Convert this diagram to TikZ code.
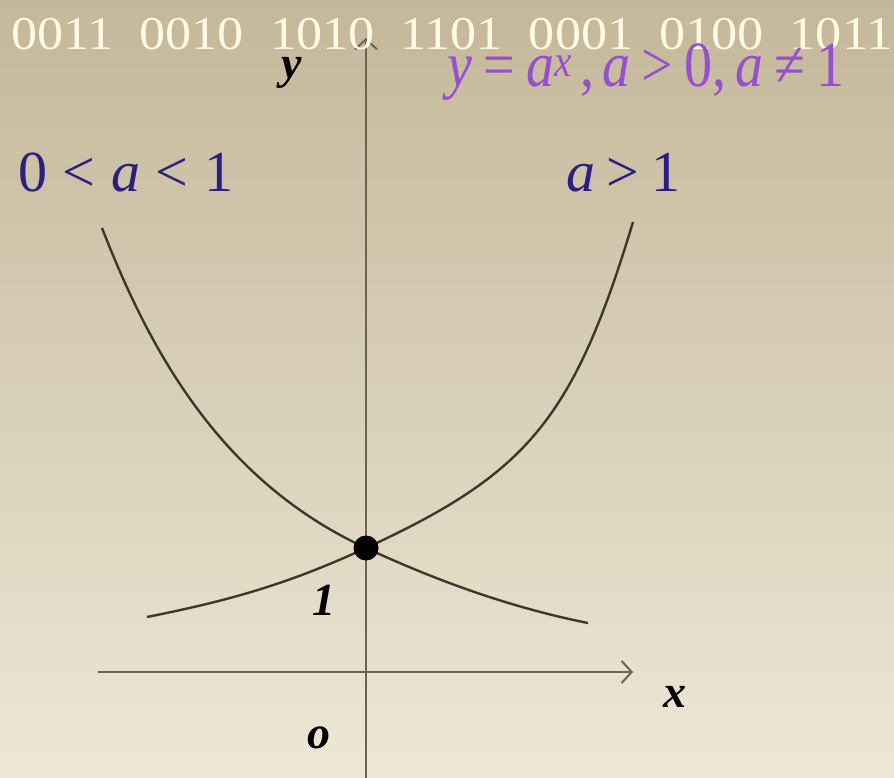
\documentclass[tikz,border=0pt]{standalone}
\usepackage{fontspec}
\usepackage{graphicx}
\setmainfont{Liberation Serif}
\usetikzlibrary{arrows.meta}
\definecolor{bgtop}{RGB}{196,183,154}
\definecolor{bgbot}{RGB}{237,231,213}
\definecolor{purp}{RGB}{150,80,205}
\definecolor{navy}{RGB}{42,32,125}
\definecolor{curvecol}{RGB}{62,56,42}
\definecolor{axiscol}{RGB}{105,100,86}
\definecolor{cream}{RGB}{255,250,228}
\newcommand\rl[1]{\hspace{0.27em}#1\hspace{0.27em}}
\newcommand\rs[1]{\hspace{0.2em}#1\hspace{0.2em}}
\tikzset{
  curveline/.style={draw=curvecol,line width=2.4pt},
  axisline/.style={draw=axiscol,line width=2pt,-{Straight Barb[length=10pt,width=22pt,line width=2pt]}},
  axlabel/.style={font=\fontsize{46}{46}\selectfont\bfseries\itshape,text=black,inner sep=0pt},
  caselabel/.style={font=\fontsize{58}{58}\selectfont,text=navy,inner sep=0pt},
  toptext/.style={font=\fontsize{47}{47}\selectfont,text=cream,inner sep=0pt},
  formula/.style={font=\fontsize{56}{56}\selectfont,text=purp,inner sep=0pt}
}
\begin{document}
\begin{tikzpicture}[x=1pt,y=-1pt]
\shade[top color=bgtop,bottom color=bgbot] (0,0) rectangle (894,778);
\useasboundingbox (0,0) rectangle (894,778);
% axes
\coordinate (xs) at (98,672);
\coordinate (xe) at (633,672);
\coordinate (ys) at (366,778);
\coordinate (ye) at (366,38);
\draw[axisline] (xs) -- (xe);
\draw[axisline] (ys) -- (ye);
% point
\coordinate (P) at (366,548);
% curve a>1
\coordinate (r0) at (147,617);
\coordinate (r1) at (633,222);
\draw[curveline] (r0) .. controls (227,601) and (286,585) .. (P)
                      .. controls (526,474) and (573,421) .. (r1);
% curve 0<a<1
\coordinate (l0) at (102,228);
\coordinate (l1) at (588,623);
\draw[curveline] (l0) .. controls (147,343) and (216,479) .. (P)
                      .. controls (446,585) and (518,609) .. (l1);
\fill[black] (P) circle (12.5);
% labels
\node[toptext,anchor=base west] (bin) at (11,50) {\scalebox{1.11}[1]{0011\enspace 0010\enspace 1010\enspace 1101\enspace 0001\enspace 0100\enspace 1011}};
\node[formula,anchor=base west] (f) at (447,87) {\scalebox{1}[1.15]{\textit{y}\rs{=}\textit{a}\textsuperscript{\textit{x}}\hspace{0.15em},\hspace{0.15em}\textit{a}\rs{>}0,\hspace{0.15em}\textit{a}\rs{≠}1}};
\node[caselabel,anchor=base west] (c1) at (18,192) {0\rl{<}\textit{a}\rl{<}1};
\node[caselabel,anchor=base west] (c2) at (566,192) {\textit{a}\hspace{0.2em}>\hspace{0.2em}1};
\node[axlabel] (ly) at (292,73) {y};
\node[axlabel] (l1) at (324,600) {1};
\node[axlabel] (lx) at (675,697) {x};
\node[axlabel] (lo) at (319,738) {o};
\end{tikzpicture}
\end{document}
